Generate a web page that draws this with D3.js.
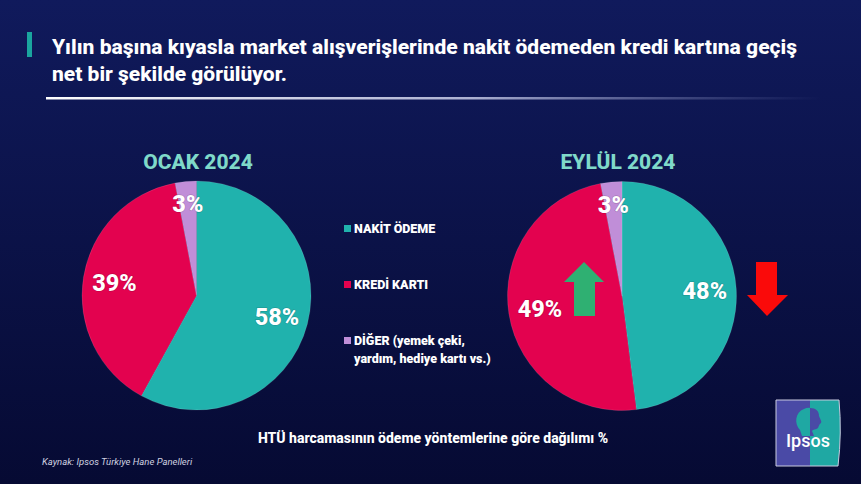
<!DOCTYPE html>
<html><head><meta charset="utf-8">
<script src="https://cdn.jsdelivr.net/npm/d3@7"></script>
<style>
html,body{margin:0;padding:0;background:#0a1045;}
svg{display:block;font-family:Roboto,"Open Sans",sans-serif;}
</style></head>
<body>
<svg id="chart" width="861" height="484"></svg>
<script>
// ---- data ----
const categories = ["NAKİT ÖDEME", "KREDİ KARTI", "DİĞER"];
const periods = ["OCAK 2024", "EYLÜL 2024"];
const valuesOcak = [58, 39, 3];
const valuesEylul = [48, 49, 3];
const legendLines = [["NAKİT ÖDEME"], ["KREDİ KARTI"], ["DİĞER (yemek çeki,", "yardım, hediye kartı vs.)"]];
const titleLines = ["Yılın başına kıyasla market alışverişlerinde nakit ödemeden kredi kartına geçiş", "net bir şekilde görülüyor."];
const subtitle = "HTÜ harcamasının ödeme yöntemlerine göre dağılımı %";
const source = "Kaynak: Ipsos Türkiye Hane Panelleri";

const colors = d3.scaleOrdinal().domain(categories).range(["#20b2ad", "#e3024f", "#c08ed8"]);

const svg = d3.select("#chart");
const defs = svg.append("defs");
const bg = defs.append("linearGradient").attr("id","bg").attr("x1",0).attr("y1",0).attr("x2",0).attr("y2",1);
bg.append("stop").attr("offset","0%").attr("stop-color","#101a5c");
bg.append("stop").attr("offset","100%").attr("stop-color","#060a33");
svg.append("rect").attr("width",861).attr("height",484).attr("fill","url(#bg)");

const ul = defs.append("linearGradient").attr("id","ul").attr("x1",0).attr("x2",1).attr("y1",0).attr("y2",0);
ul.append("stop").attr("offset","0%").attr("stop-color","#ffffff").attr("stop-opacity",1);
ul.append("stop").attr("offset","55%").attr("stop-color","#c8cce8").attr("stop-opacity",0.85);
ul.append("stop").attr("offset","100%").attr("stop-color","#8088c0").attr("stop-opacity",0);

// title
const titleWidths = [745, 235];
svg.append("rect").attr("x",27).attr("y",32).attr("width",5).attr("height",25).attr("fill","#1aa59f");
svg.append("g").selectAll("text").data(titleLines).join("text")
  .attr("x",52).attr("y",(d,i)=>54+i*27)
  .attr("fill","#ffffff").attr("font-size",20.5).attr("font-weight",800)
  .attr("textLength",(d,i)=>titleWidths[i]).attr("lengthAdjust","spacingAndGlyphs")
  .text(d=>d);
svg.append("rect").attr("x",46).attr("y",97).attr("width",775).attr("height",2.5).attr("fill","url(#ul)");

// pies
const pie = d3.pie().sort(null).value(d=>d.v);
const R = 114.5;
const arc = d3.arc().innerRadius(0).outerRadius(R);

function drawPie(cx, cy, values, title, tx){
  const g = svg.append("g").attr("transform",`translate(${cx},${cy})`);
  const data = pie(values.map((v,i)=>({v, c:categories[i]})));
  g.selectAll("path").data(data).join("path")
    .attr("d",arc).attr("fill",d=>colors(d.data.c))
    .attr("stroke","#ffffff").attr("stroke-opacity",0.2).attr("stroke-width",0.6);
  g.selectAll("text.lbl").data(data).join("text").attr("class","lbl")
    .attr("transform",d=>{
      const rr = d.data.v < 5 ? 92 : 83;
      const a = (d.startAngle+d.endAngle)/2;
      return `translate(${rr*Math.sin(a)},${-rr*Math.cos(a)})`;
    })
    .attr("text-anchor","middle").attr("dy","0.36em")
    .attr("fill","#ffffff").attr("font-size",23.5).attr("font-weight",800)
    .attr("style","paint-order:stroke").attr("stroke","rgba(0,0,0,0.15)").attr("stroke-width",1.5)
    .text(d=>d.data.v+"%");
  svg.append("text").attr("x",tx).attr("y",cy-127).attr("text-anchor","middle")
    .attr("fill","#7fd9c9").attr("font-size",21).attr("font-weight",800).text(title);
  return g;
}
drawPie(196.5, 295.5, valuesOcak, periods[0], 198);
const g2 = drawPie(622, 296, valuesEylul, periods[1], 618);

// arrows (annotations relative to the right pie)
g2.append("path").attr("d","M-58,-14 L-38,-34 L-18,-14 L-27,-14 L-27,20 L-48,20 L-48,-14 Z").attr("fill","#2fb072");
g2.append("path").attr("d","M134,-34 L155,-34 L155,-1 L166,-1 L145,20 L125,-1 L134,-1 Z").attr("fill","#fa0a0a");

// legend
const lg = svg.append("g");
const items = lg.selectAll("g").data(categories).join("g")
  .attr("transform",(d,i)=>`translate(344,${233+i*56})`);
items.append("rect").attr("x",0).attr("y",-8).attr("width",7).attr("height",7).attr("fill",d=>colors(d));
items.each(function(d,i){
  d3.select(this).selectAll("text").data(legendLines[i]).join("text")
    .attr("x",10).attr("y",(t,j)=>j*18)
    .attr("fill","#ffffff").attr("font-size",12.5).attr("font-weight",900).text(t=>t);
});

// subtitle & source
svg.append("text").attr("x",433).attr("y",443).attr("text-anchor","middle")
  .attr("fill","#ffffff").attr("font-size",14).attr("font-weight",800).text(subtitle);
svg.append("text").attr("x",42).attr("y",465)
  .attr("fill","#d0d2e0").attr("font-size",9.5).attr("font-style","italic").text(source);

// Ipsos logo
const logo = svg.append("g").attr("transform","translate(776,400)");
logo.append("path").attr("d","M0,0 L34,0 L34,66 L0,66 Z").attr("fill","#4a4aa6");
logo.append("path").attr("d","M34,0 L63,0 Q66,33 62,66 L34,66 Z").attr("fill","#1fa8a3");
logo.append("path").attr("d","M0,0 L63,0 Q66,33 62,66 L0,66 Z").attr("fill","none").attr("stroke","#c9cbe0").attr("stroke-width",1);
// silhouette
logo.append("path").attr("d","M24,30 C18,24 19,12 28,9 C34,6 42,9 43,16 C44,19 46,21 45,23 C43,24 43,26 42,28 C40,30 37,29 36,31 L38,36 L26,36 Z").attr("fill","#1fa8a3");
logo.append("path").attr("d","M34,8 C40,8 43,11 43,16 C44,19 46,21 45,23 C43,24 43,26 42,28 C40,30 37,29 36,31 L38,36 L34,36 Z").attr("fill","#4a4aa6");
logo.append("text").attr("x",32).attr("y",47).attr("text-anchor","middle")
  .attr("fill","#ffffff").attr("font-size",18).attr("font-weight",500).text("Ipsos");
</script>
</body></html>
